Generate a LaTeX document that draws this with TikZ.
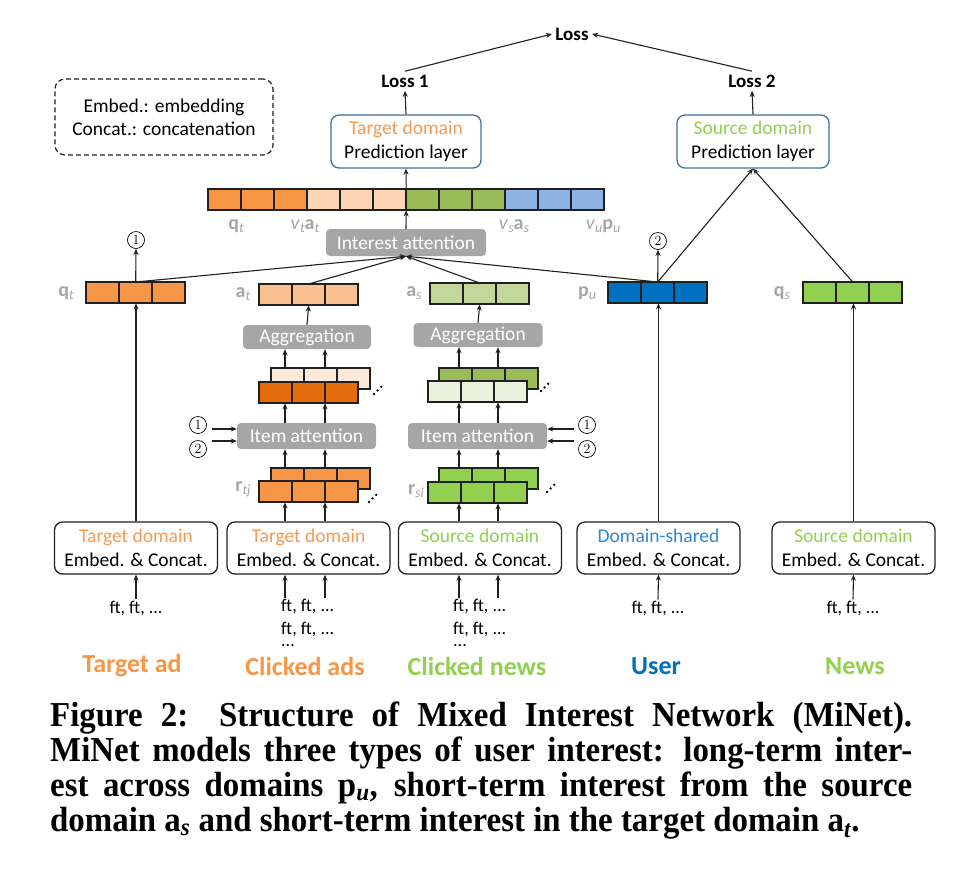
\documentclass[tikz,border=0pt]{standalone}
\usepackage{fontspec}
\newfontfamily\diafont{Carlito}
\newfontfamily\capfont[FakeStretch=0.94]{Liberation Serif}
\usetikzlibrary{arrows.meta,calc}
\definecolor{cOrange}{HTML}{F79646}
\definecolor{cOrangeT}{HTML}{F59A50}
\definecolor{cPeach}{HTML}{FCD5B5}
\definecolor{cLtOrange}{HTML}{FAC090}
\definecolor{cPaleOrange}{HTML}{FDE9D9}
\definecolor{cDkOrange}{HTML}{E46C0A}
\definecolor{cGreen}{HTML}{92D050}
\definecolor{cOlive}{HTML}{9BBB59}
\definecolor{cLtOlive}{HTML}{C3D69B}
\definecolor{cPaleOlive}{HTML}{EBF1DE}
\definecolor{cBlue}{HTML}{0070C0}
\definecolor{cBlueT}{HTML}{2F86D2}
\definecolor{cLtBlue}{HTML}{8EB4E3}
\definecolor{cGray}{HTML}{A6A6A6}
\definecolor{cFrame}{HTML}{41719C}
\definecolor{cLine}{HTML}{202020}
\newcommand\cellrow[5]{%
  \foreach \k in {1,...,#4}{\draw[cellst, fill=#5] ({#2+(\k-1)*33},#3) rectangle ++(33,21);}
  \node[inner sep=0pt, minimum width={#4*33}, minimum height=21, anchor=north west] (#1) at (#2,#3) {};
}
\newcommand\sub[1]{\raisebox{-3pt}{\fontsize{14}{14}\selectfont\itshape #1}}
\newcommand\dotsdiag[1]{\foreach \d in {0,1,2}{\fill[black] ($(#1)+(\d*3.6,-\d*3.6)$) circle (1.3);}}
\begin{document}
\begin{tikzpicture}[x=1pt,y=-1pt,font=\diafont,
  cellst/.style={draw=cLine, line width=1.1pt},
  arr/.style={-{Stealth[length=6pt,width=5pt]}, line width=1.1pt, draw=cLine},
  ebox/.style={draw=cLine, line width=1.3pt, rounded corners=8pt, minimum width=163, minimum height=52, inner sep=0pt, align=center, font=\diafont\fontsize{19.5}{24}\selectfont},
  pbox/.style={draw=cFrame, line width=1.3pt, rounded corners=8pt, minimum height=53, inner sep=0pt, align=center, font=\diafont\fontsize{19.5}{24}\selectfont},
  gbox/.style={fill=cGray, rounded corners=4pt, text=white, inner sep=0pt, font=\diafont\fontsize{19.5}{19.5}\selectfont},
  cnum/.style={circle, draw=black, line width=0.7pt, inner sep=0pt, minimum size=17, font=\normalfont\fontsize{14}{14}\selectfont},
  barlab/.style={text=cGray, inner sep=0pt, font=\diafont\fontsize{20}{20}\selectfont},
  losslab/.style={font=\diafont\bfseries\fontsize{19}{19}\selectfont},
  ftlab/.style={inner sep=1pt, font=\diafont\fontsize{18}{23}\selectfont},
  catlab/.style={font=\diafont\bfseries\fontsize{26}{26}\selectfont}
]
\useasboundingbox[fill=white] (0,0) rectangle (960,887);

% ---- losses
\node[losslab] (loss) at (572,34) {Loss};
\node[losslab] (loss1) at (405,81) {Loss 1};
\node[losslab] (loss2) at (752,81) {Loss 2};
\draw[arr] (loss1.north) -- (loss.west);
\draw[arr] (loss2.north) -- (loss.east);

% ---- legend
\node[draw=cLine, dashed, dash pattern=on 5pt off 3pt, line width=1.2pt, rounded corners=10pt,
  minimum width=218, minimum height=76, align=center, font=\diafont\fontsize{19.5}{23}\selectfont] (legend) at (164,117)
  {Embed.: embedding\\Concat.: concatenation};

% ---- prediction layers
\node[pbox, minimum width=150] (predT) at (406,141.5) {\textcolor{cOrangeT}{Target domain}\\Prediction layer};
\node[pbox, minimum width=152] (predS) at (753,141.5) {\textcolor{cGreen}{Source domain}\\Prediction layer};
\draw[arr] (predT.north) -- (loss1.south);
\draw[arr] (predS.north) -- (loss2.south);

% ---- long concatenated bar
\foreach \k/\c in {0/cOrange,1/cOrange,2/cOrange,3/cPeach,4/cPeach,5/cPeach,6/cOlive,7/cOlive,8/cOlive,9/cLtBlue,10/cLtBlue,11/cLtBlue}
  {\draw[cellst, fill=\c] ({208+\k*33},189) rectangle ++(33,21);}
\node[inner sep=0pt, minimum width=396, minimum height=21, anchor=north west] (bigbar) at (208,189) {};
\node[barlab] (lqt2) at (236,226) {\textbf{q}\sub{t}};
\node[barlab] (lvtat) at (305,226) {\textit{v}\sub{t}\textbf{a}\sub{t}};
\node[barlab] (lvsas) at (514,226) {\textit{v}\sub{s}\textbf{a}\sub{s}};
\node[barlab] (lvupu) at (603,226) {\textit{v}\sub{u}\textbf{p}\sub{u}};

% ---- interest attention
\node[gbox, minimum width=160, minimum height=27] (ia) at (406,242.5) {Interest attention};
\draw[arr] (ia.north) -- (bigbar.south);
\draw[arr] (bigbar.north) -- (predT.south);

% ---- row of interest vectors
\cellrow{qt}{86}{282}{3}{cOrange}
\cellrow{at}{259}{284}{3}{cLtOrange}
\cellrow{as}{430}{283}{3}{cLtOlive}
\cellrow{pu}{608}{282}{3}{cBlue}
\cellrow{qs}{803}{282}{3}{cGreen}
\node[barlab] (lqt) at (66,293) {\textbf{q}\sub{t}};
\node[barlab] (lat) at (243,294) {\textbf{a}\sub{t}};
\node[barlab] (las) at (414,293) {\textbf{a}\sub{s}};
\node[barlab] (lpu) at (587,293) {\textbf{p}\sub{u}};
\node[barlab] (lqs) at (782,293) {\textbf{q}\sub{s}};

\node[cnum] (c1top) at (136,240) {1};
\node[cnum] (c2top) at (658,241) {2};
\draw[arr] (qt.north) -- (c1top.south);
\draw[arr] (pu.north) -- (c2top.south);
\draw[arr] (qt.north) -- (ia.south);
\draw[arr] (at.north) -- (ia.south);
\draw[arr] (as.north) -- (ia.south);
\draw[arr] (pu.north) -- (ia.south);
\draw[arr] (pu.north) -- (predS.south);
\draw[arr] (qs.north) -- (predS.south);

% ---- aggregation
\node[gbox, minimum width=128, minimum height=24] (aggT) at (307,337) {Aggregation};
\node[gbox, minimum width=129, minimum height=24] (aggS) at (478,335) {Aggregation};
\draw[arr] (aggT.north) -- (at.south);
\draw[arr] (aggS.north) -- (as.south);

% column coordinates
\coordinate (colA1) at (285,0);
\coordinate (colA2) at (325,0);
\coordinate (colB1) at (459,0);
\coordinate (colB2) at (498,0);

% ---- weighted item stacks
\cellrow{wAback}{271}{368}{3}{cPaleOrange}
\cellrow{wAfront}{259}{382}{3}{cDkOrange}
\cellrow{wBback}{439}{368}{3}{cOlive}
\cellrow{wBfront}{428}{381}{3}{cPaleOlive}
\coordinate (dA) at (374,394);
\coordinate (dB) at (541,391);
\dotsdiag{dA}
\dotsdiag{dB}
\draw[arr] (colA1 |- wAback.north) -- (colA1 |- aggT.south);
\draw[arr] (colA2 |- wAback.north) -- (colA2 |- aggT.south);
\draw[arr] (colB1 |- wBback.north) -- (colB1 |- aggS.south);
\draw[arr] (colB2 |- wBback.north) -- (colB2 |- aggS.south);

% ---- item attention
\node[gbox, minimum width=139, minimum height=26] (iaT) at (306.5,436) {Item attention};
\node[gbox, minimum width=139, minimum height=26] (iaS) at (477.5,436) {Item attention};
\draw[arr] (colA1 |- iaT.north) -- (colA1 |- wAfront.south);
\draw[arr] (colA2 |- iaT.north) -- (colA2 |- wAfront.south);
\draw[arr] (colB1 |- iaS.north) -- (colB1 |- wBfront.south);
\draw[arr] (colB2 |- iaS.north) -- (colB2 |- wBfront.south);

\node[cnum] (c1a) at (198,425) {1};
\node[cnum] (c2a) at (198,449) {2};
\node[cnum] (c1b) at (587,425) {1};
\node[cnum] (c2b) at (587,449) {2};
\coordinate (inA1) at (212,429);
\coordinate (inA2) at (212,441);
\coordinate (inB1) at (574,429);
\coordinate (inB2) at (574,441);
\draw[arr] (inA1) -- (inA1 -| iaT.west);
\draw[arr] (inA2) -- (inA2 -| iaT.west);
\draw[arr] (inB1) -- (inB1 -| iaS.east);
\draw[arr] (inB2) -- (inB2 -| iaS.east);

% ---- raw item rows
\cellrow{rAback}{271}{468}{3}{cOrange}
\cellrow{rAfront}{259}{481}{3}{cOrange}
\cellrow{rBback}{439}{468}{3}{cGreen}
\cellrow{rBfront}{428}{482}{3}{cGreen}
\node[barlab] (lrtj) at (243,489) {\textbf{r}\sub{tj}};
\node[barlab] (lrsi) at (416,491) {\textbf{r}\sub{si}};
\coordinate (dC) at (369,502);
\coordinate (dD) at (547,492);
\dotsdiag{dC}
\dotsdiag{dD}
\draw[arr] (colA1 |- rAback.north) -- (colA1 |- iaT.south);
\draw[arr] (colA2 |- rAback.north) -- (colA2 |- iaT.south);
\draw[arr] (colB1 |- rBback.north) -- (colB1 |- iaS.south);
\draw[arr] (colB2 |- rBback.north) -- (colB2 |- iaS.south);

% ---- embedding boxes
\node[ebox] (e1) at (136,548) {\textcolor{cOrangeT}{Target domain}\\Embed. \& Concat.};
\node[ebox] (e2) at (308.5,548) {\textcolor{cOrangeT}{Target domain}\\Embed. \& Concat.};
\node[ebox] (e3) at (480,548) {\textcolor{cGreen}{Source domain}\\Embed. \& Concat.};
\node[ebox] (e4) at (658.5,548) {\textcolor{cBlueT}{Domain-shared}\\Embed. \& Concat.};
\node[ebox] (e5) at (853.5,548) {\textcolor{cGreen}{Source domain}\\Embed. \& Concat.};
\draw[arr] (e1.north) -- (e1.north |- qt.south);
\draw[arr] (colA1 |- e2.north) -- (colA1 |- rAfront.south);
\draw[arr] (colA2 |- e2.north) -- (colA2 |- rAfront.south);
\draw[arr] (colB1 |- e3.north) -- (colB1 |- rBfront.south);
\draw[arr] (colB2 |- e3.north) -- (colB2 |- rBfront.south);
\draw[arr] (e4.north) -- (e4.north |- pu.south);
\draw[arr] (e5.north) -- (e5.north |- qs.south);

% ---- features
\node[ftlab] (f1) at (136,608) {ft, ft, ...};
\node[ftlab, align=left, anchor=north west] (f2) at (280,598) {ft, ft, ...\\ft, ft, ...\\[-11pt]...};
\node[ftlab, align=left, anchor=north west] (f3) at (452,598) {ft, ft, ...\\ft, ft, ...\\[-11pt]...};
\node[ftlab] (f4) at (658,608) {ft, ft, ...};
\node[ftlab] (f5) at (853,608) {ft, ft, ...};
\draw[arr] (f1.north) -- (e1.south);
\draw[arr] (colA1 |- f2.north) -- (colA1 |- e2.south);
\draw[arr] (colA2 |- f2.north) -- (colA2 |- e2.south);
\draw[arr] (colB1 |- f3.north) -- (colB1 |- e3.south);
\draw[arr] (colB2 |- f3.north) -- (colB2 |- e3.south);
\draw[arr] (f4.north) -- (e4.south);
\draw[arr] (f5.north) -- (e5.south);

% ---- categories
\node[catlab, text=cOrange] (cat1) at (132,666) {Target ad};
\node[catlab, text=cOrange] (cat2) at (305,666) {Clicked ads};
\node[catlab, text=cGreen] (cat3) at (477,666) {Clicked news};
\node[catlab, text=cBlue] (cat4) at (656,666) {User};
\node[catlab, text=cGreen] (cat5) at (855,666) {News};

% ---- caption
\node[anchor=north west, inner sep=0pt, text width=862, align=justify,
  font=\capfont\bfseries\fontsize{35}{35}\selectfont] (cap) at (50,702)
  {Figure 2: Structure of Mixed Interest Network (MiNet).\linebreak
   MiNet models three types of user interest: long-term inter-\linebreak
   est across domains p\textsubscript{\textit{u}}, short-term interest from the source\linebreak
   domain a\textsubscript{\textit{s}} and short-term interest in the target domain a\textsubscript{\textit{t}}.};
\end{tikzpicture}
\end{document}
